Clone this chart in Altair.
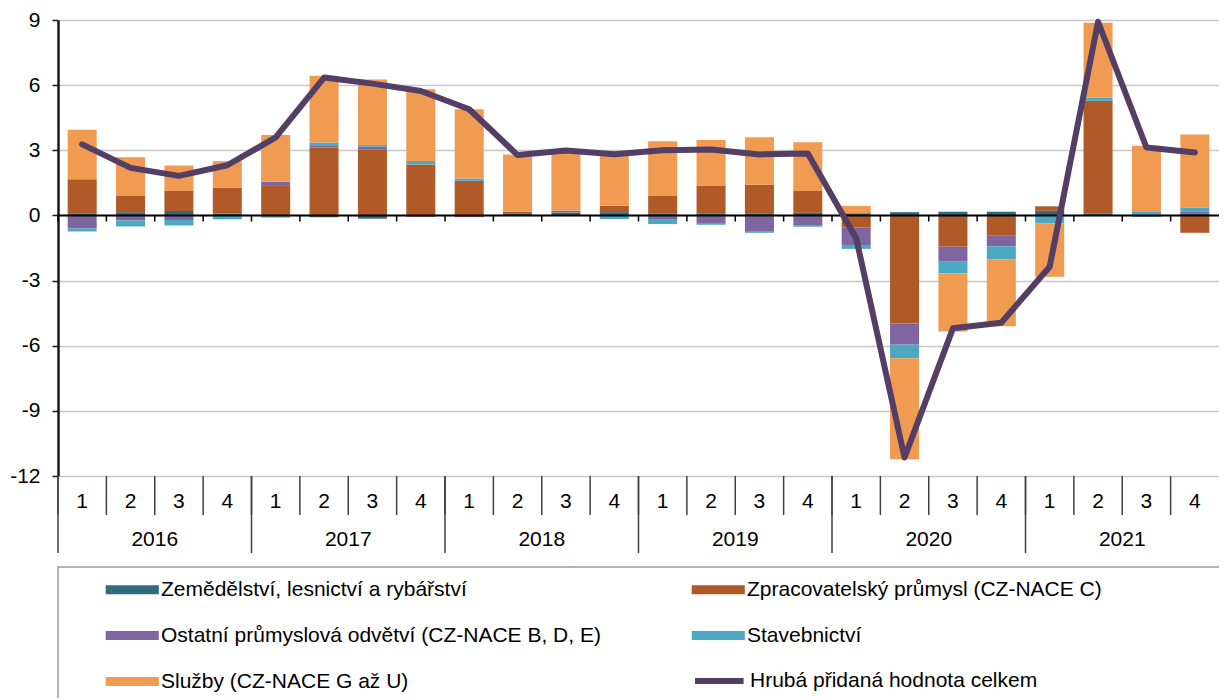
import altair as alt
import pandas as pd

years = ["2016", "2017", "2018", "2019", "2020", "2021"]
quarters = ["1", "2", "3", "4"]
periods = [f"{y}-{q}" for y in years for q in quarters]

series = [
    "Zemědělství, lesnictví a rybářství",
    "Zpracovatelský průmysl (CZ-NACE C)",
    "Ostatní průmyslová odvětví (CZ-NACE B, D, E)",
    "Stavebnictví",
    "Služby (CZ-NACE G až U)",
]
line_name = "Hrubá přidaná hodnota celkem"
colors = ["#31697E", "#B05A27", "#8066A0", "#4DA8C2", "#F09A52"]
line_color = "#533E66"

agri = [0.10, 0.15, 0.20, 0.09, 0.00, -0.08, -0.15, 0.00, 0.00, 0.07, 0.12, 0.15,
        0.10, 0.10, 0.10, 0.12, 0.10, 0.15, 0.17, 0.17, 0.21, 0.08, 0.00, 0.07]
manuf = [1.57, 0.75, 0.92, 1.18, 1.36, 3.13, 3.05, 2.35, 1.59, 0.10, 0.03, 0.29,
         0.80, 1.26, 1.31, 1.01, -0.55, -4.97, -1.44, -0.91, 0.21, 5.20, 0.00, -0.80]
other = [-0.60, -0.23, -0.21, 0.00, 0.19, 0.07, 0.11, -0.07, -0.08, 0.00, 0.05, 0.00,
         -0.20, -0.35, -0.72, -0.44, -0.81, -0.98, -0.69, -0.51, 0.00, 0.00, -0.06, 0.09]
constr = [-0.14, -0.28, -0.25, -0.18, -0.10, 0.16, 0.08, 0.16, 0.11, 0.00, 0.03, -0.17,
          -0.20, -0.08, -0.08, -0.08, -0.18, -0.63, -0.54, -0.61, -0.37, 0.14, 0.16, 0.21]
services = [2.28, 1.78, 1.18, 1.23, 2.15, 3.07, 3.02, 3.30, 3.19, 2.64, 2.72, 2.49,
            2.52, 2.11, 2.19, 2.24, 0.34, -4.65, -2.68, -3.07, -2.45, 3.45, 3.05, 3.36]
total = [3.27, 2.19, 1.82, 2.31, 3.59, 6.35, 6.07, 5.73, 4.89, 2.78, 2.99, 2.82,
         3.00, 3.04, 2.81, 2.85, -1.05, -11.15, -5.20, -4.94, -2.36, 8.92, 3.13, 2.90]

y_ticks = [-12, -9, -6, -3, 0, 3, 6, 9]

FONT = "Liberation Sans"
FS = 21

# ---- data tables ----
rows = []
for k, (name, vals) in enumerate(zip(series, [agri, manuf, other, constr, services])):
    for p, v in zip(periods, vals):
        rows.append({"period": p, "series": name, "value": v, "ord": k})
bars_df = pd.DataFrame(rows)
line_df = pd.DataFrame({"period": periods, "value": total, "name": line_name})
qlab_df = pd.DataFrame({"period": periods, "q": [p.split("-")[1] for p in periods]})
ylab_df = pd.DataFrame({"period": [f"{y}-3" for y in years], "year": years})
ysep_df = pd.DataFrame({"period": [f"{y}-1" for y in years]})
box_df = pd.DataFrame({"a": [0]})

xscale = alt.Scale(domain=periods, paddingInner=0, paddingOuter=0)
yscale = alt.Scale(domain=[-12, 9], nice=False, zero=False)

# legend symbol geometry: symbol box radius r = sqrt(size)/2 = 9 px
SYM_SIZE = 324
RECT_PATH = "M-1.2,-0.5H4.7V0.5H-1.2Z"
LINE_PATH = "M-1.0,0H4.4"
LBL_OFF = 34

bars = alt.Chart(bars_df).mark_bar(width=alt.RelativeBandSize(0.6)).encode(
    x=alt.X("period:N", scale=xscale, axis=None, sort=periods),
    y=alt.Y("value:Q", stack="zero", scale=yscale,
            axis=alt.Axis(values=y_ticks, title=None, grid=True, gridColor="#c8c8c8",
                          gridWidth=1.5, domainColor="#1a1a1a", domainWidth=2.5,
                          tickColor="#1a1a1a", tickSize=6, tickWidth=1.5,
                          labelFontSize=FS, labelFont=FONT, labelColor="#000000",
                          labelPadding=12, labelExpr="'' + datum.value")),
    color=alt.Color("series:N", scale=alt.Scale(domain=series, range=colors),
                    legend=alt.Legend(title=None, orient="none", legendX=48, legendY=559,
                                      direction="horizontal", columns=2, columnPadding=90,
                                      rowPadding=24,
                                      symbolType=RECT_PATH, symbolSize=SYM_SIZE,
                                      symbolStrokeWidth=0, labelOffset=LBL_OFF,
                                      labelFontSize=FS, labelFont=FONT, labelColor="#000000",
                                      labelLimit=1000, padding=0)),
    order=alt.Order("ord:Q"),
)

zero = alt.Chart(box_df).mark_rule(color="#000000", strokeWidth=2).encode(y=alt.datum(0))

zticks = alt.Chart(qlab_df).mark_rule(color="#000000", strokeWidth=1.5).encode(
    x=alt.X("period:N", bandPosition=0),
    y=alt.datum(0),
    y2=alt.datum(-0.28),
)

line = alt.Chart(line_df).mark_line(strokeWidth=6, strokeCap="round", strokeJoin="round").encode(
    x=alt.X("period:N"),
    y=alt.Y("value:Q"),
    stroke=alt.Stroke("name:N", scale=alt.Scale(domain=[line_name], range=[line_color]),
                      legend=alt.Legend(title=None, orient="none", legendX=634, legendY=649,
                                        symbolType=LINE_PATH, symbolSize=SYM_SIZE,
                                        symbolStrokeWidth=6, labelOffset=LBL_OFF,
                                        labelFontSize=FS, labelFont=FONT, labelColor="#000000",
                                        labelLimit=1000, padding=0)),
)

qsep = alt.Chart(qlab_df).mark_rule(color="#404040", strokeWidth=1.5).encode(
    x=alt.X("period:N", bandPosition=0),
    y=alt.value(456), y2=alt.value(495),
)
ysep = alt.Chart(ysep_df).mark_rule(color="#404040", strokeWidth=1.5).encode(
    x=alt.X("period:N", bandPosition=0),
    y=alt.value(456), y2=alt.value(533),
)
qlab = alt.Chart(qlab_df).mark_text(fontSize=FS, font=FONT, baseline="middle", color="#000000").encode(
    x=alt.X("period:N"), y=alt.value(482), text="q:N",
)
ylab = alt.Chart(ylab_df).mark_text(fontSize=FS, font=FONT, baseline="middle", color="#000000").encode(
    x=alt.X("period:N", bandPosition=0), y=alt.value(520), text="year:N",
)
box = alt.Chart(box_df).mark_rect(fillOpacity=0, stroke="#9a9a9a", strokeWidth=1.5).encode(
    x=alt.value(0), x2=alt.value(1400), y=alt.value(547), y2=alt.value(900),
)

chart = alt.layer(box, bars, zero, zticks, line, qsep, ysep, qlab, ylab).resolve_scale(
    color="independent", stroke="independent"
).properties(
    width=1161, height=456,
    autosize=alt.AutoSizeParams(type="none"),
    padding={"left": 50, "top": 12, "right": 0, "bottom": 222},
    background="#ffffff",
).configure_view(stroke=None)

chart.save("out.html", embed_options={"renderer": "svg", "actions": False})
